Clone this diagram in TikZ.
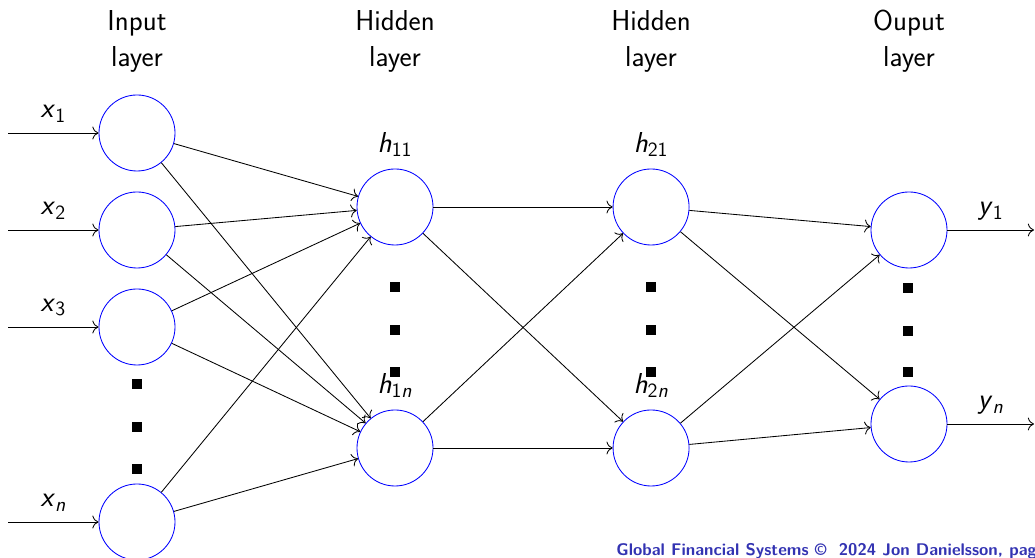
\documentclass[tikz,border=0pt]{standalone}
\usepackage{xcolor}
\usepackage{tikz}
\usetikzlibrary{positioning,arrows.meta}
\renewcommand{\familydefault}{\sfdefault}
\definecolor{footblue}{rgb}{0.2,0.2,0.7}
\newcommand{\var}[2]{\textit{#1}\textsubscript{#2}}
\tikzstyle{neuron} = [draw=blue, circle, minimum size=1.9cm, inner sep=0pt]
\tikzstyle{sqdot} = [fill=black, rectangle, minimum size=0.25cm, inner sep=0pt]
\tikzstyle{mlabel} = [font=\fontsize{20.5}{25}\selectfont]
\tikzstyle{title} = [align=center, anchor=north, inner sep=0pt,
    font=\fontsize{20.5}{25.5}\selectfont]
\tikzstyle{footer} = [anchor=base west, inner sep=0pt, text=footblue,
    font=\fontsize{12}{14}\selectfont\bfseries]
\tikzstyle{input} = [coordinate]
\tikzstyle{output} = [coordinate]

\begin{document}
\begin{tikzpicture}[x=0.025cm, y=0.025cm, node distance=6.4cm,
    line width=0.6pt, >={To[scale=1.5]}, label distance=5pt]
    \useasboundingbox (0,0) rectangle (1035,558);
    % We start by placing the neurons of each layer
    \node [neuron] (x1) at (137,425) {};
    \node [neuron] (x2) at (137,328) {};
    \node [neuron] (x3) at (137,231) {};
    \node [neuron] (xn) at (137,36) {};
    \node [neuron, label={[mlabel]above:\var{h}{11}}] (h11) at (395,351) {};
    \node [neuron, label={[mlabel]above:\var{h}{1\textit{n}}}] (h1n) at (395,110) {};
    \node [neuron, right of=h11, label={[mlabel]above:\var{h}{21}}] (h21) {};
    \node [neuron, right of=h1n, label={[mlabel]above:\var{h}{2\textit{n}}}] (h2n) {};
    \node [neuron] (y1) at (909,328) {};
    \node [neuron] (yn) at (909,134) {};

    % The dots stand for the neurons that are left out
    \node [sqdot] (dx1) at (137,174) {};
    \node [sqdot] (dx2) at (137,131) {};
    \node [sqdot] (dx3) at (137,89) {};
    \node [sqdot] (dh1) at (395,271) {};
    \node [sqdot] (dh2) at (395,228) {};
    \node [sqdot] (dh3) at (395,186) {};
    \node [sqdot] (dg1) at (651,271) {};
    \node [sqdot] (dg2) at (651,228) {};
    \node [sqdot] (dg3) at (651,186) {};
    \node [sqdot] (dy1) at (908,270) {};
    \node [sqdot] (dy2) at (908,227) {};
    \node [sqdot] (dy3) at (908,186) {};

    % Layer titles
    \node [title] (tin) at (137,548) {Input\\layer};
    \node [title] (th1) at (395,548) {Hidden\\layer};
    \node [title] (th2) at (651,548) {Hidden\\layer};
    \node [title] (tout) at (909,548) {Ouput\\layer};

    % Free ends of the inputs and outputs
    \node [input] (in1) at (8,425) {};
    \node [input] (in2) at (8,328) {};
    \node [input] (in3) at (8,231) {};
    \node [input] (inn) at (8,36) {};
    \node [output] (out1) at (1034,328) {};
    \node [output] (outn) at (1034,134) {};

    \draw [->] (in1) -- node[mlabel, above=4pt] {\var{x}{1}} (x1);
    \draw [->] (in2) -- node[mlabel, above=4pt] {\var{x}{2}} (x2);
    \draw [->] (in3) -- node[mlabel, above=4pt] {\var{x}{3}} (x3);
    \draw [->] (inn) -- node[mlabel, above=4pt] {\var{x}{\textit{n}}} (xn);

    % Input layer to first hidden layer
    \draw [->] (x1) -- (h11);
    \draw [->] (x1) -- (h1n);
    \draw [->] (x2) -- (h11);
    \draw [->] (x2) -- (h1n);
    \draw [->] (x3) -- (h11);
    \draw [->] (x3) -- (h1n);
    \draw [->] (xn) -- (h11);
    \draw [->] (xn) -- (h1n);
    % First to second hidden layer
    \draw [->] (h11) -- (h21);
    \draw [->] (h11) -- (h2n);
    \draw [->] (h1n) -- (h21);
    \draw [->] (h1n) -- (h2n);
    % Second hidden layer to output layer
    \draw [->] (h21) -- (y1);
    \draw [->] (h21) -- (yn);
    \draw [->] (h2n) -- (y1);
    \draw [->] (h2n) -- (yn);

    \draw [->] (y1) -- node[mlabel, above=3pt] {\var{y}{1}} (out1);
    \draw [->] (yn) -- node[mlabel, above=3pt] {\var{y}{\textit{n}}} (outn);

    \node [footer] (foot) at (616,2)
        {Global Financial Systems \textcopyright\ \ 2024 Jon Danielsson, page 1};
\end{tikzpicture}
\end{document}
